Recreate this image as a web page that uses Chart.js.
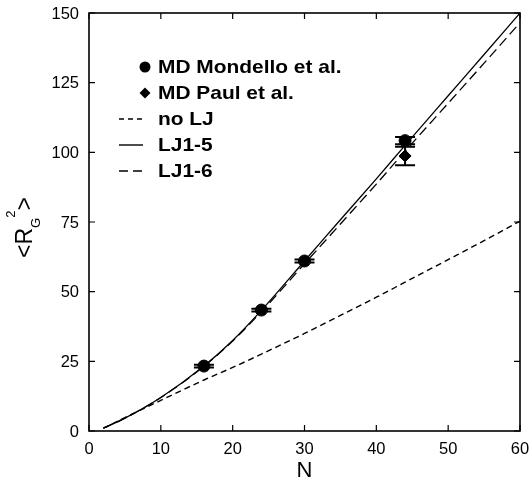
<!DOCTYPE html>
<html><head><meta charset="utf-8">
<script src="https://cdn.jsdelivr.net/npm/chart.js@4"></script>
<style>html,body{margin:0;padding:0;background:#fff}#wrap{width:529px;height:483px}</style>
</head><body><div id="wrap"><canvas id="c" width="529" height="483"></canvas></div>
<script>
// ---- data ----
const mondelloN = [16, 24, 30, 44];
const mondelloR = [23.3, 43.4, 61.0, 104.2];
const mondelloErr = [0.5, 0.5, 0.5, 1.3];
const paulN = [44];
const paulR = [98.7];
const paulErr = [3.3];
const curveN = [2, 5, 10, 16, 20, 24, 30, 35, 40, 44, 50, 55, 60];
const noLJ  = [1.0, 4.8, 11.0, 18.3, 22.8, 27.6, 35.0, 41.5, 48.0, 53.4, 61.5, 68.3, 75.3];
const lj15  = [1.0, 4.6, 12.0, 23.3, 32.5, 43.3, 61.0, 75.8, 90.5, 102.5, 120.3, 135.1, 150.0];
const lj16  = [1.0, 4.6, 12.0, 23.2, 32.3, 42.8, 60.0, 74.3, 88.6, 100.4, 117.6, 132.0, 146.5];
const xTicks = [0, 10, 20, 30, 40, 50, 60];
const yTicks = [0, 25, 50, 75, 100, 125, 150];
const legendItems = [
  {label: 'MD Mondello et al.', kind: 'circle'},
  {label: 'MD Paul et al.', kind: 'diamond'},
  {label: 'no LJ', kind: 'line', dash: [5, 4]},
  {label: 'LJ1-5', kind: 'line', dash: []},
  {label: 'LJ1-6', kind: 'line', dash: [9, 5]}
];

const pts = (xs, ys) => xs.map((x, i) => ({x, y: ys[i]}));
const FONT = '"Liberation Sans", Arial, Helvetica, sans-serif';

const decor = {
  id: 'decor',
  afterDatasetsDraw(chart) {
    const ctx = chart.ctx, a = chart.chartArea;
    const xs = chart.scales.x, ys = chart.scales.y;
    ctx.save();
    // error bars
    ctx.strokeStyle = '#000'; ctx.lineWidth = 2;
    const eb = (N, R, E) => {
      N.forEach((n, i) => {
        const px = xs.getPixelForValue(n);
        const top = ys.getPixelForValue(R[i] + E[i]);
        const bot = ys.getPixelForValue(R[i] - E[i]);
        ctx.beginPath();
        ctx.moveTo(px, top); ctx.lineTo(px, bot);
        ctx.moveTo(px - 10, top); ctx.lineTo(px + 10, top);
        ctx.moveTo(px - 10, bot); ctx.lineTo(px + 10, bot);
        ctx.stroke();
      });
    };
    eb(mondelloN, mondelloR, mondelloErr);
    eb(paulN, paulR, paulErr);
    // frame
    ctx.lineWidth = 1.6;
    ctx.strokeRect(a.left, a.top, a.right - a.left, a.bottom - a.top);
    // inward ticks
    ctx.lineWidth = 1.2;
    ctx.beginPath();
    xTicks.forEach(v => {
      const px = xs.getPixelForValue(v);
      ctx.moveTo(px, a.bottom); ctx.lineTo(px, a.bottom - 6);
      ctx.moveTo(px, a.top); ctx.lineTo(px, a.top + 6);
    });
    yTicks.forEach(v => {
      const py = ys.getPixelForValue(v);
      ctx.moveTo(a.left, py); ctx.lineTo(a.left + 6, py);
      ctx.moveTo(a.right, py); ctx.lineTo(a.right - 6, py);
    });
    ctx.stroke();
    // tick labels
    ctx.fillStyle = '#000';
    ctx.font = '16.5px ' + FONT;
    ctx.textAlign = 'right'; ctx.textBaseline = 'middle';
    yTicks.forEach(v => ctx.fillText(String(v), 79, ys.getPixelForValue(v) + 1));
    ctx.textAlign = 'center'; ctx.textBaseline = 'top';
    xTicks.forEach(v => ctx.fillText(String(v), xs.getPixelForValue(v), 441));
    // legend
    const lx0 = 119, lx1 = 143, mx = 145, tx = 158;
    legendItems.forEach((it, i) => {
      const y = 67 + i * 26;
      ctx.fillStyle = '#000'; ctx.strokeStyle = '#000';
      if (it.kind === 'circle') {
        ctx.beginPath(); ctx.arc(mx, y, 5.5, 0, Math.PI * 2); ctx.fill();
      } else if (it.kind === 'diamond') {
        ctx.beginPath(); ctx.moveTo(mx, y - 5.5); ctx.lineTo(mx + 5.5, y); ctx.lineTo(mx, y + 5.5); ctx.lineTo(mx - 5.5, y); ctx.closePath(); ctx.fill();
      } else {
        ctx.lineWidth = 1.4; ctx.setLineDash(it.dash);
        ctx.beginPath(); ctx.moveTo(lx0, y); ctx.lineTo(lx1, y); ctx.stroke();
        ctx.setLineDash([]);
      }
      ctx.save();
      ctx.translate(tx, y);
      ctx.scale(1.13, 1);
      ctx.font = 'bold 18.5px ' + FONT;
      ctx.textBaseline = 'middle'; ctx.textAlign = 'left';
      ctx.fillText(it.label, 0, 1);
      ctx.restore();
    });
    // x title
    ctx.fillStyle = '#000';
    ctx.font = '22px ' + FONT;
    ctx.textAlign = 'center'; ctx.textBaseline = 'alphabetic';
    ctx.fillText('N', (a.left + a.right) / 2, 477);
    // y title <R_G^2>
    ctx.save();
    ctx.translate(32, 258);
    ctx.rotate(-Math.PI / 2);
    ctx.textAlign = 'left'; ctx.textBaseline = 'alphabetic';
    let x = 0;
    ctx.font = '23px ' + FONT;
    ctx.fillText('<R', x, 0); x += ctx.measureText('<R').width;
    ctx.font = '13px ' + FONT;
    ctx.fillText('G', x, 8); const gw = ctx.measureText('G').width;
    ctx.fillText('2', x + gw, -17); x += gw + ctx.measureText('2').width;
    ctx.font = '23px ' + FONT;
    ctx.fillText('>', x, 0);
    ctx.restore();
    ctx.restore();
  }
};

new Chart(document.getElementById('c'), {
  type: 'scatter',
  data: {
    datasets: [
      {label: 'no LJ', type: 'line', data: pts(curveN, noLJ), borderColor: '#000', borderWidth: 1.4, borderDash: [6, 4], pointRadius: 0, cubicInterpolationMode: 'monotone', fill: false},
      {label: 'LJ1-5', type: 'line', data: pts(curveN, lj15), borderColor: '#000', borderWidth: 1.3, pointRadius: 0, cubicInterpolationMode: 'monotone', fill: false},
      {label: 'LJ1-6', type: 'line', data: pts(curveN, lj16), borderColor: '#000', borderWidth: 1.3, borderDash: [10, 5], pointRadius: 0, cubicInterpolationMode: 'monotone', fill: false},
      {label: 'MD Mondello et al.', data: pts(mondelloN, mondelloR), pointStyle: 'circle', pointRadius: 6, backgroundColor: '#000', borderColor: '#000'},
      {label: 'MD Paul et al.', data: pts(paulN, paulR), pointStyle: 'rectRot', pointRadius: 6, backgroundColor: '#000', borderColor: '#000'}
    ]
  },
  options: {
    responsive: false, animation: false,
    layout: {padding: {left: 0, right: 9, top: 13, bottom: 0}},
    plugins: {legend: {display: false}, tooltip: {enabled: false}},
    scales: {
      x: {type: 'linear', min: 0, max: 60,
          grid: {display: false}, border: {display: false},
          afterFit: s => { s.height = 52; },
          afterBuildTicks: s => { s.ticks = xTicks.map(v => ({value: v})); },
          ticks: {display: false}},
      y: {type: 'linear', min: 0, max: 150,
          grid: {display: false}, border: {display: false},
          afterFit: s => { s.width = 89; },
          afterBuildTicks: s => { s.ticks = yTicks.map(v => ({value: v})); },
          ticks: {display: false}}
    }
  },
  plugins: [decor]
});
</script></body></html>
